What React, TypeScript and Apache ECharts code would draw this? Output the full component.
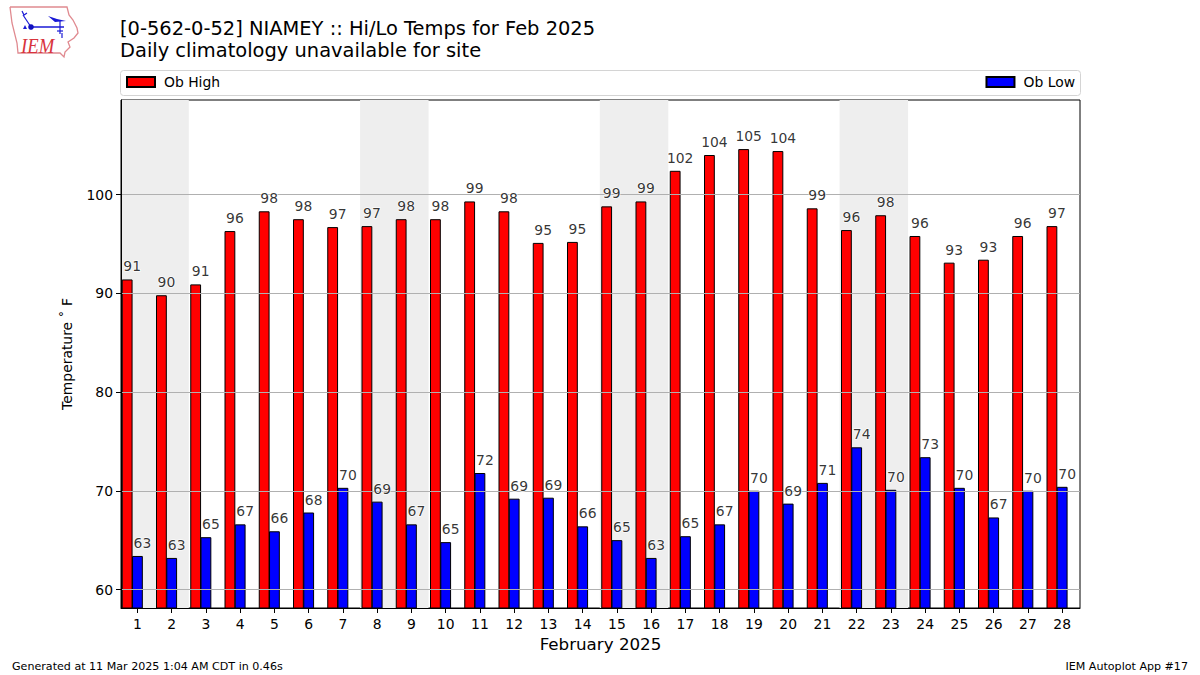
import React, { useEffect, useRef } from "react";
import * as echarts from "echarts";

const days = [1,2,3,4,5,6,7,8,9,10,11,12,13,14,15,16,17,18,19,20,21,22,23,24,25,26,27,28];
const highs = [91.4,89.8,90.9,96.3,98.3,97.5,96.7,96.8,97.5,97.5,99.3,98.3,95.1,95.2,98.8,99.3,102.4,104,104.6,104.4,98.6,96.4,97.9,95.8,93.1,93.4,95.8,96.8];
const lows = [63.4,63.2,65.3,66.6,65.9,67.8,70.3,68.9,66.6,64.8,71.8,69.2,69.3,66.4,65,63.2,65.4,66.6,70,68.7,70.8,74.4,70.1,73.4,70.3,67.3,70,70.4];
const yTicks = [60,70,80,90,100];
const weekendSpans = [[0.52,2.5],[7.5,9.5],[14.5,16.5],[21.5,23.5]];
const titleLine1 = "[0-562-0-52] NIAMEY :: Hi/Lo Temps for Feb 2025";
const titleLine2 = "Daily climatology unavailable for site";
const footerLeft = "Generated at 11 Mar 2025 1:04 AM CDT in 0.46s";
const footerRight = "IEM Autoplot App #17";
const FONT = "DejaVu Sans";
const HIGH_SHIFT = -0.3;
const X_MIN = 0.52;
const X_MAX = 28.52;

const blue = "#1a1ad6";
const logoGraphics: any[] = [
  { type: "polyline", shape: { points: [[10,7],[67,7],[69,15],[73,20],[77,28],[78,33],[74,38],[68,42],[70,47],[65,52],[64,57],[60,53],[18,53],[17,43],[12,23],[10,7]] }, style: { stroke: "#e08a90", fill: "none", lineWidth: 1.3 } },
  { type: "line", shape: { x1: 31, y1: 27, x2: 64, y2: 27 }, style: { stroke: blue, lineWidth: 1.6 } },
  { type: "line", shape: { x1: 31, y1: 27, x2: 23, y2: 15 }, style: { stroke: blue, lineWidth: 1.2 } },
  { type: "polyline", shape: { points: [[22,11],[24,15],[27,13]] }, style: { stroke: blue, fill: "none", lineWidth: 1.2 } },
  { type: "circle", shape: { cx: 31, cy: 27, r: 2.8 }, style: { fill: "#1010c0" } },
  { type: "polygon", shape: { points: [[48,16],[57,19],[66,21],[55,22]] }, style: { fill: blue } },
  { type: "line", shape: { x1: 60, y1: 21, x2: 60, y2: 34 }, style: { stroke: blue, lineWidth: 1.2 } },
  { type: "line", shape: { x1: 57, y1: 31, x2: 63, y2: 31 }, style: { stroke: blue, lineWidth: 1.2 } },
  { type: "line", shape: { x1: 62, y1: 33, x2: 62, y2: 38 }, style: { stroke: blue, lineWidth: 1.2 } },
  { type: "polygon", shape: { points: [[25,25],[27,29],[23,29]] }, style: { fill: blue } },
  { type: "text", x: 21, y: 34, scaleX: 0.85, style: { text: "IEM", fill: "#d8333c", fontFamily: "Liberation Serif", fontStyle: "italic", fontSize: 22 } },
];

export default function App() {
  const ref = useRef<HTMLDivElement>(null);
  useEffect(() => {
    const chart = echarts.init(ref.current!, undefined, { renderer: "svg" });
    const labelSeries = (vals: number[], shift: number) => ({
      type: "scatter",
      symbolSize: 0,
      z: 8,
      silent: true,
      data: days.map((d, i) => [d + shift, vals[i]]),
      label: {
        show: true,
        position: "top",
        distance: 6,
        offset: [5, 0],
        fontFamily: FONT,
        fontSize: 13.9,
        color: "#000",
        textBorderColor: "#fff",
        textBorderWidth: 1.5,
        formatter: (p: any) => String(Math.round(p.value[1])),
      },
    });
    chart.setOption({
      animation: false,
      backgroundColor: "#fff",
      textStyle: { fontFamily: FONT },
      grid: { left: 121, right: 120, top: 100, bottom: 67, show: true, borderColor: "#000", borderWidth: 1, backgroundColor: "#fff" },
      xAxis: [
        {
          type: "value",
          min: X_MIN,
          max: X_MAX,
          z: 6,
          name: "February 2025",
          nameLocation: "middle",
          nameGap: 27,
          nameTextStyle: { fontFamily: FONT, fontSize: 16.7, color: "#000" },
          axisLine: { show: true, onZero: false, lineStyle: { color: "#000", width: 1 } },
          axisTick: { show: true, length: 5, customValues: days, lineStyle: { color: "#000" } },
          axisLabel: { customValues: days, fontFamily: FONT, fontSize: 13.9, color: "#000", margin: 9, formatter: (v: number) => String(v) },
          splitLine: { show: false },
        },
        { type: "value", min: X_MIN, max: X_MAX, show: false, position: "bottom", splitLine: { show: false } },
      ],
      yAxis: {
        type: "value",
        min: 58.13,
        max: 109.57,
        z: 6,
        name: "Temperature ˚ F",
        nameLocation: "middle",
        nameGap: 47,
        nameRotate: 90,
        nameTextStyle: { fontFamily: FONT, fontSize: 13.9, color: "#000" },
        axisLine: { show: true, onZero: false, lineStyle: { color: "#000", width: 1 } },
        axisTick: { show: true, length: 5, customValues: yTicks, lineStyle: { color: "#000" } },
        axisLabel: { customValues: yTicks, fontFamily: FONT, fontSize: 13.9, color: "#000", margin: 8, formatter: (v: number) => String(v) },
        splitLine: { show: true, lineStyle: { color: "#b0b0b0", width: 1 } },
      },
      legend: [
        { data: [{ name: "Ob High", icon: "rect" }], left: 126, top: 75, padding: 0, itemWidth: 28, itemHeight: 10, textStyle: { fontFamily: FONT, fontSize: 13.9, color: "#000", padding: [0, 0, 0, 4] } },
        { data: [{ name: "Ob Low", icon: "rect" }], right: 125, top: 75, padding: 0, itemWidth: 28, itemHeight: 10, textStyle: { fontFamily: FONT, fontSize: 13.9, color: "#000", padding: [0, 0, 0, 4] } },
      ],
      series: [
        {
          type: "line",
          name: "shade",
          z: 1,
          data: [],
          silent: true,
          markArea: {
            silent: true,
            itemStyle: { color: "#eeeeee", borderWidth: 0 },
            label: { show: false },
            data: weekendSpans.map(([a, b]) => [{ xAxis: a }, { xAxis: b }]),
          },
        },
        {
          type: "bar",
          name: "Ob High",
          xAxisIndex: 1,
          z: 2,
          barWidth: 10.8,
          itemStyle: { color: "#ff0000", borderColor: "#000", borderWidth: 1 },
          data: days.map((d, i) => [d + HIGH_SHIFT, highs[i]]),
        },
        {
          type: "bar",
          name: "Ob Low",
          xAxisIndex: 0,
          z: 3,
          barWidth: 10.8,
          itemStyle: { color: "#0000ff", borderColor: "#000", borderWidth: 1 },
          data: days.map((d, i) => [d, lows[i]]),
        },
        labelSeries(highs, HIGH_SHIFT),
        labelSeries(lows, 0),
      ],
      graphic: [
        { type: "rect", z: -1, shape: { x: 120.5, y: 70.5, width: 960, height: 25, r: 3 }, style: { fill: "#fff", stroke: "#d4d4d4", lineWidth: 1 } },
        { type: "text", x: 120, y: 19, style: { text: titleLine1, fontFamily: FONT, fontSize: 19.45, fill: "#000" } },
        { type: "text", x: 120, y: 41, style: { text: titleLine2, fontFamily: FONT, fontSize: 19.45, fill: "#000" } },
        { type: "text", x: 12, y: 661, style: { text: footerLeft, fontFamily: FONT, fontSize: 11.1, fill: "#000" } },
        { type: "text", x: 1188, y: 661, style: { text: footerRight, fontFamily: FONT, fontSize: 11.1, fill: "#000", align: "right" } },
        ...logoGraphics,
      ],
    });
    return () => chart.dispose();
  }, []);
  return <div ref={ref} style={{ position: "fixed", left: 0, top: 0, width: 1200, height: 675 }} />;
}
